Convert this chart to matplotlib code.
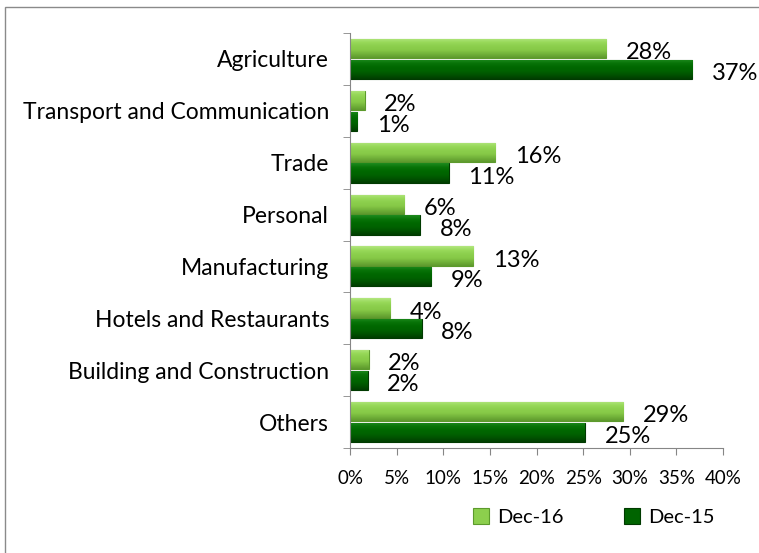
import matplotlib.pyplot as plt
import matplotlib.patches as mpatches
from matplotlib.colors import to_rgb
import numpy as np

plt.rcParams['font.family'] = ['Lato', 'DejaVu Sans']

# sector shares, top to bottom
sectors = ['Agriculture', 'Transport and Communication', 'Trade', 'Personal',
           'Manufacturing', 'Hotels and Restaurants', 'Building and Construction', 'Others']
dec16 = [27.5, 1.6, 15.6, 5.8, 13.2, 4.3, 2.0, 29.3]
dec15 = [36.7, 0.8, 10.6, 7.5, 8.7, 7.7, 1.9, 25.2]
xticks = [0, 5, 10, 15, 20, 25, 30, 35, 40]

light_green = '#8CCF4D'
dark_green = '#006400'
# top-to-bottom shading for the bevelled bars
light_shade = ['#B2E67E', '#98D95A', '#8CCF4D', '#86C947', '#72B23A', '#5E9A2E']
dark_shade = ['#1E8A1E', '#087408', '#006800', '#006200', '#005200', '#003E00']


def gradient(colors, n=40):
    rgb = np.array([to_rgb(c) for c in colors])
    pos = np.linspace(0, 1, len(colors))
    t = np.linspace(0, 1, n)
    return np.stack([np.interp(t, pos, rgb[:, k]) for k in range(3)], axis=1)[:, None, :]


fig = plt.figure(figsize=(7.59, 5.53), dpi=100)
ax = fig.add_axes([350 / 759, 1 - 448 / 553, 373 / 759, 415 / 553])

y = np.arange(len(sectors))
h = 0.37
b16 = ax.barh(y - 0.2, dec16, height=h, color=light_green, edgecolor='#5C9A2C', linewidth=0.8, label='Dec-16')
b15 = ax.barh(y + 0.2, dec15, height=h, color=dark_green, edgecolor='#003A00', linewidth=0.8, label='Dec-15')

# shade each bar with a vertical gradient clipped to its rectangle
for bars, shade in [(b16, light_shade), (b15, dark_shade)]:
    img = gradient(shade)
    for bar in bars:
        x0, y0 = bar.get_x(), bar.get_y()
        im = ax.imshow(img, extent=(x0, x0 + bar.get_width(), y0 + bar.get_height(), y0),
                       origin='upper', aspect='auto', zorder=bar.get_zorder() + 0.1)
        im.set_clip_path(bar)

# value labels just past the bar ends
for bars, vals in [(b16, dec16), (b15, dec15)]:
    for bar, v in zip(bars, vals):
        ax.annotate(f'{v:.0f}%', (v, bar.get_y() + bar.get_height() / 2),
                    xytext=(14, -3), textcoords='offset points',
                    ha='left', va='center', fontsize=17)

ax.set_xlim(0, 40)
ax.set_ylim(len(sectors) - 0.5, -0.5)
ax.set_xticks(xticks)
ax.set_xticklabels([f'{t}%' for t in xticks], fontsize=13.5)

# category names in the middle of each band, tick marks on the band edges
ax.set_yticks(y)
ax.set_yticklabels(sectors, fontsize=16.5)
ax.tick_params(axis='y', length=0, pad=15)
ax.set_yticks(np.arange(len(sectors) + 1) - 0.5, minor=True)
ax.tick_params(axis='y', which='minor', length=5, color='#868686')
ax.tick_params(axis='x', length=5, color='#868686', pad=11)

for s in ['top', 'right']:
    ax.spines[s].set_visible(False)
for s in ['left', 'bottom']:
    ax.spines[s].set_color('#868686')
    ax.spines[s].set_zorder(5)

fig.legend(handles=[b16, b15], loc='center', bbox_to_anchor=(594 / 759, 1 - 517 / 553),
           ncol=2, frameon=False, fontsize=14.5, handlelength=0.8, handleheight=0.8,
           handletextpad=0.4, columnspacing=3.0)

# outer chart border
fig.patches.append(mpatches.Rectangle((5 / 759, -0.1), 1.1, 1 - 7 / 553 + 0.1,
                                      transform=fig.transFigure, fill=False,
                                      edgecolor='#8A8A8A', linewidth=1))

fig.savefig('out.png', dpi=100)
